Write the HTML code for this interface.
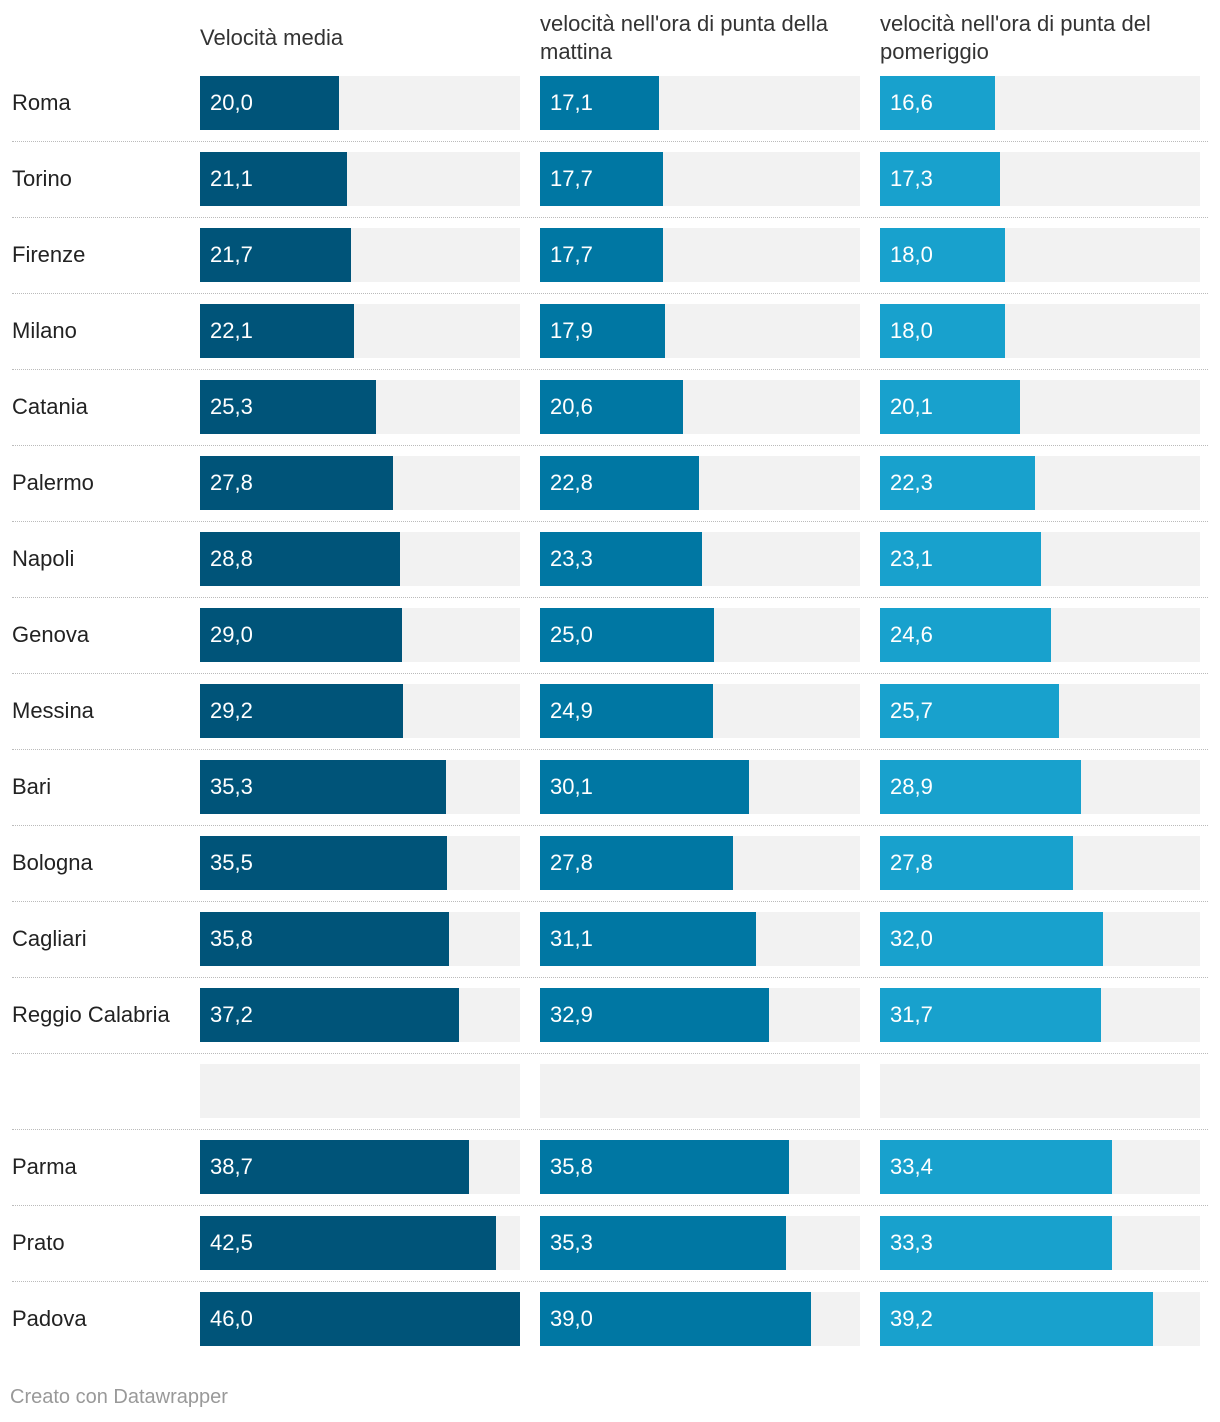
<!DOCTYPE html>
<html><head><meta charset="utf-8"><style>
body{margin:0;background:#fff;width:1220px;height:1422px;position:relative;font-family:"Liberation Sans",sans-serif;overflow:hidden}
.h{position:absolute;font-size:22px;color:#333;line-height:28px}
.lab{position:absolute;left:12px;font-size:22px;color:#222;line-height:54px}
.trk{position:absolute;height:54px;background:#f2f2f2}
.bar{position:absolute;height:54px}
.val{position:absolute;font-size:22px;color:#fff;line-height:54px}
.sep{position:absolute;left:12px;width:1196px;border-top:1px dotted #bbb;height:0}
.foot{position:absolute;left:10px;top:1386px;font-size:20px;color:#999}
</style></head><body>
<div class="h" style="left:200px;top:24px">Velocità media</div>
<div class="h" style="left:540px;top:10px;width:320px">velocità nell'ora di punta della mattina</div>
<div class="h" style="left:880px;top:10px;width:320px">velocità nell'ora di punta del pomeriggio</div>
<div id="chart"></div>
<div class="foot">Creato con Datawrapper</div>
<script>
const cities=["Roma","Torino","Firenze","Milano","Catania","Palermo","Napoli","Genova","Messina","Bari","Bologna","Cagliari","Reggio Calabria","","Parma","Prato","Padova"];
const media=[20.0,21.1,21.7,22.1,25.3,27.8,28.8,29.0,29.2,35.3,35.5,35.8,37.2,null,38.7,42.5,46.0];
const mattina=[17.1,17.7,17.7,17.9,20.6,22.8,23.3,25.0,24.9,30.1,27.8,31.1,32.9,null,35.8,35.3,39.0];
const pomeriggio=[16.6,17.3,18.0,18.0,20.1,22.3,23.1,24.6,25.7,28.9,27.8,32.0,31.7,null,33.4,33.3,39.2];
const maxV=46, colW=320, top0=76, pitch=76;
const cols=[{d:media,x:200,c:"#005479",n:"media"},{d:mattina,x:540,c:"#0077a3",n:"mattina"},{d:pomeriggio,x:880,c:"#18a1cd",n:"pomeriggio"}];
const root=document.getElementById('chart');
const sx=v=>v/maxV*colW;
function mk(cls,style,txt){const e=document.createElement('div');e.className=cls;Object.assign(e.style,style);if(txt!==undefined)e.textContent=txt;root.appendChild(e);return e;}
cities.forEach((city,i)=>{
  const y=top0+i*pitch;
  const l=mk('lab',{top:y+'px'},city);
  
  
  cols.forEach(col=>{
    const t=mk('trk',{left:col.x+'px',top:y+'px',width:colW+'px'});
    
    
    const v=col.d[i];
    if(v!=null){
      const b=mk('bar',{left:col.x+'px',top:y+'px',width:sx(v)+'px',background:col.c});
      
      
      const tx=mk('val',{left:(col.x+10)+'px',top:y+'px'},v.toFixed(1).replace('.',','));
      
      
    }
  });
  if(i<cities.length-1){
    const s=mk('sep',{top:(y+65)+'px'});
    
    
  }
});
</script>
</body></html>
